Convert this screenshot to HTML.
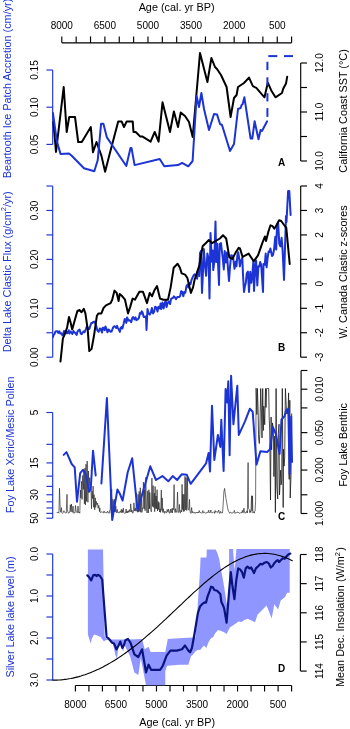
<!DOCTYPE html>
<html><head><meta charset="utf-8"><style>
html,body{margin:0;padding:0;background:#fff;}
svg{display:block;will-change:transform;filter:blur(0.35px);}
text{font-family:"Liberation Sans",sans-serif;}
</style></head><body>
<svg width="350" height="729" viewBox="0 0 350 729">
<rect width="350" height="729" fill="#fff"/>
<line x1="61.8" y1="42.8" x2="291.6" y2="42.8" stroke="#000" stroke-width="1.15"/>
<line x1="61.8" y1="42.8" x2="61.8" y2="36.4" stroke="#000" stroke-width="1.15"/>
<line x1="76.1625" y1="42.8" x2="76.1625" y2="36.4" stroke="#000" stroke-width="1.15"/>
<line x1="90.525" y1="42.8" x2="90.525" y2="36.4" stroke="#000" stroke-width="1.15"/>
<line x1="104.8875" y1="42.8" x2="104.8875" y2="36.4" stroke="#000" stroke-width="1.15"/>
<line x1="119.25" y1="42.8" x2="119.25" y2="36.4" stroke="#000" stroke-width="1.15"/>
<line x1="133.6125" y1="42.8" x2="133.6125" y2="36.4" stroke="#000" stroke-width="1.15"/>
<line x1="147.97500000000002" y1="42.8" x2="147.97500000000002" y2="36.4" stroke="#000" stroke-width="1.15"/>
<line x1="162.3375" y1="42.8" x2="162.3375" y2="36.4" stroke="#000" stroke-width="1.15"/>
<line x1="176.7" y1="42.8" x2="176.7" y2="36.4" stroke="#000" stroke-width="1.15"/>
<line x1="191.0625" y1="42.8" x2="191.0625" y2="36.4" stroke="#000" stroke-width="1.15"/>
<line x1="205.425" y1="42.8" x2="205.425" y2="36.4" stroke="#000" stroke-width="1.15"/>
<line x1="219.78750000000002" y1="42.8" x2="219.78750000000002" y2="36.4" stroke="#000" stroke-width="1.15"/>
<line x1="234.15000000000003" y1="42.8" x2="234.15000000000003" y2="36.4" stroke="#000" stroke-width="1.15"/>
<line x1="248.5125" y1="42.8" x2="248.5125" y2="36.4" stroke="#000" stroke-width="1.15"/>
<line x1="262.875" y1="42.8" x2="262.875" y2="36.4" stroke="#000" stroke-width="1.15"/>
<line x1="277.2375" y1="42.8" x2="277.2375" y2="36.4" stroke="#000" stroke-width="1.15"/>
<line x1="291.6" y1="42.8" x2="291.6" y2="36.4" stroke="#000" stroke-width="1.15"/>
<text x="61.8" y="29.1" text-anchor="middle" font-size="10" fill="#000" font-weight="normal">8000</text>
<text x="104.8875" y="29.1" text-anchor="middle" font-size="10" fill="#000" font-weight="normal">6500</text>
<text x="147.97500000000002" y="29.1" text-anchor="middle" font-size="10" fill="#000" font-weight="normal">5000</text>
<text x="191.0625" y="29.1" text-anchor="middle" font-size="10" fill="#000" font-weight="normal">3500</text>
<text x="234.15000000000003" y="29.1" text-anchor="middle" font-size="10" fill="#000" font-weight="normal">2000</text>
<text x="277.2375" y="29.1" text-anchor="middle" font-size="10" fill="#000" font-weight="normal">500</text>
<text x="176.6" y="10.6" text-anchor="middle" font-size="10.85" fill="#000" font-weight="normal">Age (cal. yr BP)</text>
<line x1="75.4" y1="685.5" x2="291.6" y2="685.5" stroke="#000" stroke-width="1.15"/>
<line x1="75.4" y1="685.5" x2="75.4" y2="691.5" stroke="#000" stroke-width="1.15"/>
<line x1="88.91250000000001" y1="685.5" x2="88.91250000000001" y2="691.5" stroke="#000" stroke-width="1.15"/>
<line x1="102.42500000000001" y1="685.5" x2="102.42500000000001" y2="691.5" stroke="#000" stroke-width="1.15"/>
<line x1="115.9375" y1="685.5" x2="115.9375" y2="691.5" stroke="#000" stroke-width="1.15"/>
<line x1="129.45000000000002" y1="685.5" x2="129.45000000000002" y2="691.5" stroke="#000" stroke-width="1.15"/>
<line x1="142.9625" y1="685.5" x2="142.9625" y2="691.5" stroke="#000" stroke-width="1.15"/>
<line x1="156.47500000000002" y1="685.5" x2="156.47500000000002" y2="691.5" stroke="#000" stroke-width="1.15"/>
<line x1="169.9875" y1="685.5" x2="169.9875" y2="691.5" stroke="#000" stroke-width="1.15"/>
<line x1="183.5" y1="685.5" x2="183.5" y2="691.5" stroke="#000" stroke-width="1.15"/>
<line x1="197.01250000000002" y1="685.5" x2="197.01250000000002" y2="691.5" stroke="#000" stroke-width="1.15"/>
<line x1="210.525" y1="685.5" x2="210.525" y2="691.5" stroke="#000" stroke-width="1.15"/>
<line x1="224.03750000000002" y1="685.5" x2="224.03750000000002" y2="691.5" stroke="#000" stroke-width="1.15"/>
<line x1="237.55" y1="685.5" x2="237.55" y2="691.5" stroke="#000" stroke-width="1.15"/>
<line x1="251.06250000000003" y1="685.5" x2="251.06250000000003" y2="691.5" stroke="#000" stroke-width="1.15"/>
<line x1="264.57500000000005" y1="685.5" x2="264.57500000000005" y2="691.5" stroke="#000" stroke-width="1.15"/>
<line x1="278.08750000000003" y1="685.5" x2="278.08750000000003" y2="691.5" stroke="#000" stroke-width="1.15"/>
<line x1="291.6" y1="685.5" x2="291.6" y2="691.5" stroke="#000" stroke-width="1.15"/>
<text x="75.4" y="708.2" text-anchor="middle" font-size="10" fill="#000" font-weight="normal">8000</text>
<text x="115.9375" y="708.2" text-anchor="middle" font-size="10" fill="#000" font-weight="normal">6500</text>
<text x="156.47500000000002" y="708.2" text-anchor="middle" font-size="10" fill="#000" font-weight="normal">5000</text>
<text x="197.01250000000002" y="708.2" text-anchor="middle" font-size="10" fill="#000" font-weight="normal">3500</text>
<text x="237.55" y="708.2" text-anchor="middle" font-size="10" fill="#000" font-weight="normal">2000</text>
<text x="278.08750000000003" y="708.2" text-anchor="middle" font-size="10" fill="#000" font-weight="normal">500</text>
<text x="177.2" y="726.2" text-anchor="middle" font-size="10.85" fill="#000" font-weight="normal">Age (cal. yr BP)</text>
<line x1="52.7" y1="70" x2="52.7" y2="144.4" stroke="#1c34d6" stroke-width="1.15"/>
<line x1="46.400000000000006" y1="70" x2="52.7" y2="70" stroke="#1c34d6" stroke-width="1.15"/>
<line x1="46.400000000000006" y1="107.2" x2="52.7" y2="107.2" stroke="#1c34d6" stroke-width="1.15"/>
<line x1="46.400000000000006" y1="144.4" x2="52.7" y2="144.4" stroke="#1c34d6" stroke-width="1.15"/>
<text transform="translate(38.2,70) rotate(-90)" text-anchor="middle" font-size="10" fill="#000" font-weight="normal">0.15</text>
<text transform="translate(38.2,107.2) rotate(-90)" text-anchor="middle" font-size="10" fill="#000" font-weight="normal">0.10</text>
<text transform="translate(38.2,144.4) rotate(-90)" text-anchor="middle" font-size="10" fill="#000" font-weight="normal">0.05</text>
<line x1="300.7" y1="63" x2="300.7" y2="161" stroke="#000" stroke-width="1.15"/>
<line x1="300.7" y1="63" x2="307.0" y2="63" stroke="#000" stroke-width="1.15"/>
<line x1="300.7" y1="87.5" x2="307.0" y2="87.5" stroke="#000" stroke-width="1.15"/>
<line x1="300.7" y1="112" x2="307.0" y2="112" stroke="#000" stroke-width="1.15"/>
<line x1="300.7" y1="136.5" x2="307.0" y2="136.5" stroke="#000" stroke-width="1.15"/>
<line x1="300.7" y1="161" x2="307.0" y2="161" stroke="#000" stroke-width="1.15"/>
<text transform="translate(322.9,63) rotate(-90)" text-anchor="middle" font-size="10" fill="#000" font-weight="normal">12.0</text>
<text transform="translate(322.9,112) rotate(-90)" text-anchor="middle" font-size="10" fill="#000" font-weight="normal">11.0</text>
<text transform="translate(322.9,161) rotate(-90)" text-anchor="middle" font-size="10" fill="#000" font-weight="normal">10.0</text>
<text transform="translate(10.9,178.3) rotate(-90)" text-anchor="start" font-size="10.85" fill="#1c34d6" font-weight="normal">Beartooth Ice Patch Accretion (cm/yr)</text>
<text transform="translate(346.7,172.7) rotate(-90)" text-anchor="start" font-size="10.85" fill="#000" font-weight="normal">California Coast SST (°C)</text>
<text x="281.5" y="166" text-anchor="middle" font-size="10" fill="#000" font-weight="bold">A</text>
<polyline points="53.4,122.0 56.0,152.0 63.7,87.0 66.7,132.0 69.2,117.0 75.0,117.0 78.2,142.0 81.8,142.0 90.8,127.0 93.0,152.3 96.5,142.0 101.4,155.6 105.1,171.7 109.2,155.7 118.2,121.4 121.6,121.4 124.0,127.0 126.7,121.4 132.7,121.4 133.5,132.0 135.7,132.0 140.3,136.6 142.6,136.6 150.6,141.6 154.7,132.0 158.6,141.6 162.5,102.3 170.0,132.0 173.9,111.4 178.0,127.0 180.7,112.6 185.0,116.0 189.0,122.0 192.7,137.0 200.0,53.0 207.4,82.0 211.4,58.0 215.0,67.0 217.0,69.0 221.0,75.0 226.6,87.0 230.6,117.0 234.0,98.0 236.6,95.0 238.0,87.0 244.0,83.0 249.0,77.6 252.9,86.2 256.3,87.9 264.5,97.3 267.8,82.7 271.7,91.3 275.5,97.3 282.0,93.0 283.2,88.7 286.0,83.6 287.2,76.7" fill="none" stroke="#000" stroke-width="2" stroke-linejoin="round" stroke-linecap="round" />
<polyline points="52.9,112.9 56.9,141.4 60.5,153.9 69.0,153.5 71.7,155.7 84.0,168.3 94.3,171.3 97.7,160.3 101.1,123.7 103.4,123.7 106.9,137.4 126.3,166.0 130.5,148.0 131.5,148.0 134.6,165.1 159.7,159.0 164.3,166.3 178.0,165.1 182.1,162.9 188.3,166.3 192.6,161.0 196.6,96.0 199.0,107.0 201.4,93.0 204.0,109.0 209.0,130.0 214.0,114.0 217.0,114.4 220.0,124.0 222.0,125.0 230.0,151.0 234.0,144.0 238.0,109.0 240.6,108.0 241.6,105.0 242.6,104.2 244.4,97.3 250.6,138.5 252.3,138.5 254.6,121.3 258.5,139.3 260.6,130.0 262.0,131.0 267.1,121.3" fill="none" stroke="#1c34d6" stroke-width="2" stroke-linejoin="round" stroke-linecap="round" />
<line x1="267.4" y1="61.8" x2="267.4" y2="70.1" stroke="#1c34d6" stroke-width="2"/>
<line x1="267.4" y1="77.3" x2="267.4" y2="85.5" stroke="#1c34d6" stroke-width="2"/>
<line x1="267.4" y1="93.2" x2="267.4" y2="101.4" stroke="#1c34d6" stroke-width="2"/>
<line x1="267.4" y1="108.1" x2="267.4" y2="116.9" stroke="#1c34d6" stroke-width="2"/>
<line x1="268.3" y1="56.1" x2="277.3" y2="56.1" stroke="#1c34d6" stroke-width="2"/>
<line x1="284.0" y1="56.1" x2="293.0" y2="56.1" stroke="#1c34d6" stroke-width="2"/>
<line x1="52.7" y1="186.0" x2="52.7" y2="357.2" stroke="#1c34d6" stroke-width="1.15"/>
<line x1="46.400000000000006" y1="186.0" x2="52.7" y2="186.0" stroke="#1c34d6" stroke-width="1.15"/>
<line x1="46.400000000000006" y1="210.45714285714286" x2="52.7" y2="210.45714285714286" stroke="#1c34d6" stroke-width="1.15"/>
<line x1="46.400000000000006" y1="234.9142857142857" x2="52.7" y2="234.9142857142857" stroke="#1c34d6" stroke-width="1.15"/>
<line x1="46.400000000000006" y1="259.37142857142857" x2="52.7" y2="259.37142857142857" stroke="#1c34d6" stroke-width="1.15"/>
<line x1="46.400000000000006" y1="283.8285714285714" x2="52.7" y2="283.8285714285714" stroke="#1c34d6" stroke-width="1.15"/>
<line x1="46.400000000000006" y1="308.2857142857143" x2="52.7" y2="308.2857142857143" stroke="#1c34d6" stroke-width="1.15"/>
<line x1="46.400000000000006" y1="332.74285714285713" x2="52.7" y2="332.74285714285713" stroke="#1c34d6" stroke-width="1.15"/>
<line x1="46.400000000000006" y1="357.2" x2="52.7" y2="357.2" stroke="#1c34d6" stroke-width="1.15"/>
<text transform="translate(38.2,357.2) rotate(-90)" text-anchor="middle" font-size="10" fill="#000" font-weight="normal">0.00</text>
<text transform="translate(38.2,308.2857142857143) rotate(-90)" text-anchor="middle" font-size="10" fill="#000" font-weight="normal">0.10</text>
<text transform="translate(38.2,259.37142857142857) rotate(-90)" text-anchor="middle" font-size="10" fill="#000" font-weight="normal">0.20</text>
<text transform="translate(38.2,210.45714285714286) rotate(-90)" text-anchor="middle" font-size="10" fill="#000" font-weight="normal">0.30</text>
<line x1="300.7" y1="186.0" x2="300.7" y2="357.2" stroke="#000" stroke-width="1.15"/>
<line x1="300.7" y1="186.0" x2="307.0" y2="186.0" stroke="#000" stroke-width="1.15"/>
<line x1="300.7" y1="210.45714285714286" x2="307.0" y2="210.45714285714286" stroke="#000" stroke-width="1.15"/>
<line x1="300.7" y1="234.9142857142857" x2="307.0" y2="234.9142857142857" stroke="#000" stroke-width="1.15"/>
<line x1="300.7" y1="259.37142857142857" x2="307.0" y2="259.37142857142857" stroke="#000" stroke-width="1.15"/>
<line x1="300.7" y1="283.8285714285714" x2="307.0" y2="283.8285714285714" stroke="#000" stroke-width="1.15"/>
<line x1="300.7" y1="308.2857142857143" x2="307.0" y2="308.2857142857143" stroke="#000" stroke-width="1.15"/>
<line x1="300.7" y1="332.74285714285713" x2="307.0" y2="332.74285714285713" stroke="#000" stroke-width="1.15"/>
<line x1="300.7" y1="357.2" x2="307.0" y2="357.2" stroke="#000" stroke-width="1.15"/>
<text transform="translate(322.9,186.0) rotate(-90)" text-anchor="middle" font-size="10" fill="#000" font-weight="normal">4</text>
<text transform="translate(322.9,210.45714285714286) rotate(-90)" text-anchor="middle" font-size="10" fill="#000" font-weight="normal">3</text>
<text transform="translate(322.9,234.9142857142857) rotate(-90)" text-anchor="middle" font-size="10" fill="#000" font-weight="normal">2</text>
<text transform="translate(322.9,259.37142857142857) rotate(-90)" text-anchor="middle" font-size="10" fill="#000" font-weight="normal">1</text>
<text transform="translate(322.9,283.8285714285714) rotate(-90)" text-anchor="middle" font-size="10" fill="#000" font-weight="normal">0</text>
<text transform="translate(322.9,308.2857142857143) rotate(-90)" text-anchor="middle" font-size="10" fill="#000" font-weight="normal">-1</text>
<text transform="translate(322.9,332.74285714285713) rotate(-90)" text-anchor="middle" font-size="10" fill="#000" font-weight="normal">-2</text>
<text transform="translate(322.9,357.2) rotate(-90)" text-anchor="middle" font-size="10" fill="#000" font-weight="normal">-3</text>
<text transform="translate(10.9,352.3) rotate(-90)" text-anchor="start" font-size="10.85" fill="#1c34d6" font-weight="normal">Delta Lake Clastic Flux (g/cm<tspan dy="-4.7" font-size="7.6">2</tspan><tspan dy="4.7">/yr)</tspan></text>
<text transform="translate(346.7,338.6) rotate(-90)" text-anchor="start" font-size="10.85" fill="#000" font-weight="normal">W. Canada Clastic z-scores</text>
<text x="281.5" y="351" text-anchor="middle" font-size="10" fill="#000" font-weight="bold">B</text>
<polyline points="53.0,337.0 53.8,334.6 54.5,334.0 55.5,331.4 56.5,331.2 57.4,331.2 58.2,332.9 59.4,331.2 60.2,333.6 61.5,333.3 62.4,335.4 63.1,334.7 64.0,330.9 64.8,331.8 66.0,331.0 67.0,333.4 67.9,332.9 68.7,330.2 69.5,333.5 70.5,331.5 71.5,332.2 72.4,334.0 73.5,331.0 74.6,332.5 75.8,333.6 76.7,334.9 77.4,331.8 78.6,330.2 79.6,329.5 80.7,333.6 81.7,334.1 82.6,332.7 83.7,331.3 84.6,332.2 85.9,329.2 87.0,326.1 88.1,328.8 89.4,328.9 90.3,325.8 91.4,322.9 92.4,323.1 93.1,322.0 94.3,321.6 95.1,322.6 96.4,326.6 97.3,330.3 98.6,331.8 99.8,328.5 100.7,328.9 102.0,332.5 102.8,327.7 103.6,328.0 104.6,330.2 105.4,326.5 106.4,328.7 107.4,332.3 108.6,329.5 109.6,330.5 110.4,331.8 111.5,331.6 112.7,328.5 113.6,326.6 114.7,326.3 115.5,327.2 116.3,328.0 117.0,325.8 117.8,328.0 118.7,329.3 119.9,331.9 120.7,327.9 121.6,326.9 122.4,328.5 123.7,323.4 124.7,318.9 125.4,319.9 126.3,322.9 127.1,317.4 128.4,320.5 129.2,320.5 129.9,320.2 131.2,322.2 132.3,317.9 133.2,317.1 134.4,319.4 135.5,317.4 136.4,320.1 137.7,319.3 138.8,318.2 140.0,313.1 141.0,313.7 141.7,311.2 142.6,312.5 143.7,317.1 144.7,316.7 146.0,316.5 146.5,330.0 147.5,309.0 148.5,313.3 149.8,314.6 150.8,312.7 151.9,307.9 153.0,313.4 154.2,311.6 155.2,306.8 156.4,307.3 157.5,311.5 158.5,306.7 159.8,308.5 160.6,303.5 161.3,309.0 162.5,302.6 163.7,308.4 164.8,303.0 165.8,300.7 166.6,307.0 167.6,302.9 168.9,301.5 170.1,304.0 171.0,299.0 171.8,298.4 172.9,298.0 173.8,296.4 175.1,297.6 176.1,299.1 177.3,297.0 178.5,297.1 179.6,296.7 180.3,295.6 181.1,291.2 182.3,291.9 183.3,296.2 184.3,291.9 185.3,292.8 186.5,285.8 187.5,284.6 188.4,287.5 189.4,283.1 190.5,284.2 191.5,280.0 192.5,277.6 193.6,275.5 194.6,274.3 195.9,275.2 197.1,278.7 198.0,270.0 199.2,276.1 200.0,252.9 201.0,250.9 202.0,293.0 202.9,273.4 203.8,249.0 205.3,268.7 206.1,275.8 207.4,253.4 208.6,259.0 209.5,298.6 210.5,233.0 211.8,261.8 212.7,250.5 213.2,270.0 214.3,262.1 215.5,221.4 216.3,262.0 217.2,243.8 219.0,285.0 219.7,244.0 221.0,243.0 221.8,250.6 222.6,256.6 223.8,269.4 224.7,251.0 225.9,262.5 227.0,252.4 227.8,266.1 229.0,281.0 230.0,266.7 231.2,255.2 232.4,255.8 233.0,256.0 234.5,268.8 235.8,261.4 236.5,266.2 237.4,255.0 238.2,252.3 239.0,257.1 239.9,266.4 240.7,261.8 241.6,259.4 242.3,257.9 243.0,274.6 244.0,292.0 245.0,285.9 245.8,283.0 246.7,273.6 247.9,271.5 249.0,292.0 250.2,271.8 251.4,282.8 252.5,272.5 253.4,260.7 254.0,291.0 255.3,266.1 256.1,260.5 257.3,285.4 258.4,266.3 259.3,266.5 260.2,262.0 261.2,265.1 263.0,292.0 263.5,263.9 264.8,264.7 265.7,253.5 266.6,267.3 267.6,258.2 268.6,251.5 269.5,252.0 270.4,248.5 271.2,252.1 272.0,256.0 273.0,255.1 274.1,249.3 275.3,236.7 276.2,249.4 277.0,226.0 278.1,222.3 279.3,243.9 280.4,246.4 281.6,237.8 282.6,250.1 284.0,280.0 286.0,216.0 286.5,222.0 288.1,191.0 289.3,191.0 290.6,215.0" fill="none" stroke="#1c34d6" stroke-width="2" stroke-linejoin="round" stroke-linecap="round" />
<polyline points="60.5,361.4 62.9,338.4 64.1,335.9 67.1,327.7 68.6,319.0 69.0,316.9 70.6,322.6 72.2,329.4 75.1,319.0 77.4,311.0 79.7,310.0 81.5,312.3 83.8,308.9 85.4,313.4 87.7,329.4 89.3,351.1 91.6,348.9 93.9,336.3 96.9,315.7 98.5,313.4 101.4,313.4 103.7,307.7 106.0,305.4 110.6,303.1 112.2,299.7 114.5,290.6 116.7,292.9 118.6,301.0 119.7,294.0 122.3,296.3 125.0,299.7 128.0,313.4 130.3,306.6 132.6,298.6 134.9,299.7 139.4,291.7 142.9,291.7 147.0,303.1 149.7,292.9 152.0,296.3 154.3,290.6 157.0,286.0 160.0,298.6 163.4,299.7 168.0,299.7 170.7,287.1 173.7,267.7 177.6,263.8 179.9,267.7 181.7,273.4 185.1,274.6 187.4,278.0 190.9,292.9 193.1,287.1 194.7,279.3 199.4,265.2 202.6,246.3 205.7,243.2 208.9,240.0 212.0,243.2 219.9,238.5 223.0,235.3 226.2,238.5 229.3,257.3 232.4,258.9 235.6,252.6 238.7,247.9 240.0,248.5 242.6,257.0 248.6,253.6 253.7,261.3 258.0,255.3 262.3,243.2 264.9,236.5 266.0,241.0 268.5,231.3 270.5,225.3 272.6,226.2 274.3,228.7 276.9,224.5 279.1,220.2 281.2,221.0 283.7,224.5 286.3,227.9 289.7,263.9" fill="none" stroke="#000" stroke-width="2" stroke-linejoin="round" stroke-linecap="round" />
<line x1="52.7" y1="412.5" x2="52.7" y2="518.2" stroke="#1c34d6" stroke-width="1.15"/>
<line x1="46.400000000000006" y1="412.5" x2="52.7" y2="412.5" stroke="#1c34d6" stroke-width="1.15"/>
<line x1="46.400000000000006" y1="444.3188705416828" x2="52.7" y2="444.3188705416828" stroke="#1c34d6" stroke-width="1.15"/>
<line x1="46.400000000000006" y1="462.93171662386834" x2="52.7" y2="462.93171662386834" stroke="#1c34d6" stroke-width="1.15"/>
<line x1="46.400000000000006" y1="476.13774108336565" x2="52.7" y2="476.13774108336565" stroke="#1c34d6" stroke-width="1.15"/>
<line x1="46.400000000000006" y1="486.3811294583172" x2="52.7" y2="486.3811294583172" stroke="#1c34d6" stroke-width="1.15"/>
<line x1="46.400000000000006" y1="494.7505871655511" x2="52.7" y2="494.7505871655511" stroke="#1c34d6" stroke-width="1.15"/>
<line x1="46.400000000000006" y1="501.8268628295069" x2="52.7" y2="501.8268628295069" stroke="#1c34d6" stroke-width="1.15"/>
<line x1="46.400000000000006" y1="507.9566116250485" x2="52.7" y2="507.9566116250485" stroke="#1c34d6" stroke-width="1.15"/>
<line x1="46.400000000000006" y1="513.3634332477367" x2="52.7" y2="513.3634332477367" stroke="#1c34d6" stroke-width="1.15"/>
<line x1="46.400000000000006" y1="518.2" x2="52.7" y2="518.2" stroke="#1c34d6" stroke-width="1.15"/>
<text transform="translate(38.2,412.5) rotate(-90)" text-anchor="middle" font-size="10" fill="#000" font-weight="normal">5</text>
<text transform="translate(38.2,462.93171662386834) rotate(-90)" text-anchor="middle" font-size="10" fill="#000" font-weight="normal">15</text>
<text transform="translate(38.2,494.7505871655511) rotate(-90)" text-anchor="middle" font-size="10" fill="#000" font-weight="normal">30</text>
<text transform="translate(38.2,518.2) rotate(-90)" text-anchor="middle" font-size="10" fill="#000" font-weight="normal">50</text>
<line x1="301.09999999999997" y1="370.49098576948353" x2="301.09999999999997" y2="513.5" stroke="#000" stroke-width="1.15"/>
<line x1="301.09999999999997" y1="370.49098576948353" x2="307.4" y2="370.49098576948353" stroke="#000" stroke-width="1.15"/>
<line x1="301.09999999999997" y1="389.2" x2="307.4" y2="389.2" stroke="#000" stroke-width="1.15"/>
<line x1="301.09999999999997" y1="407.90901423051645" x2="307.4" y2="407.90901423051645" stroke="#000" stroke-width="1.15"/>
<line x1="301.09999999999997" y1="432.64098576948356" x2="307.4" y2="432.64098576948356" stroke="#000" stroke-width="1.15"/>
<line x1="301.09999999999997" y1="451.34999999999997" x2="307.4" y2="451.34999999999997" stroke="#000" stroke-width="1.15"/>
<line x1="301.09999999999997" y1="470.0590142305164" x2="307.4" y2="470.0590142305164" stroke="#000" stroke-width="1.15"/>
<line x1="301.09999999999997" y1="494.79098576948354" x2="307.4" y2="494.79098576948354" stroke="#000" stroke-width="1.15"/>
<line x1="301.09999999999997" y1="513.5" x2="307.4" y2="513.5" stroke="#000" stroke-width="1.15"/>
<text transform="translate(322.9,389.2) rotate(-90)" text-anchor="middle" font-size="10" fill="#000" font-weight="normal">0.010</text>
<text transform="translate(322.9,432.64098576948356) rotate(-90)" text-anchor="middle" font-size="10" fill="#000" font-weight="normal">0.050</text>
<text transform="translate(322.9,470.0590142305164) rotate(-90)" text-anchor="middle" font-size="10" fill="#000" font-weight="normal">0.200</text>
<text transform="translate(322.9,513.5) rotate(-90)" text-anchor="middle" font-size="10" fill="#000" font-weight="normal">1.000</text>
<text transform="translate(13.5,513.2) rotate(-90)" text-anchor="start" font-size="10.85" fill="#1c34d6" font-weight="normal">Foy Lake Xeric/Mesic Pollen</text>
<text transform="translate(346.7,486.8) rotate(-90)" text-anchor="start" font-size="10.85" fill="#000" font-weight="normal">Foy Lake Benthic</text>
<text x="281.5" y="520" text-anchor="middle" font-size="10" fill="#000" font-weight="bold">C</text>
<polyline points="57.0,512.4 57.5,512.9 57.9,512.1 58.3,512.4 58.9,513.2 59.5,488.3 60.2,509.4 60.8,512.2 61.4,507.6 61.9,512.7 62.5,513.3 63.2,512.7 63.9,510.7 64.7,512.4 65.1,512.8 65.6,512.9 66.3,513.0 67.0,494.3 67.4,509.8 68.1,512.8 68.6,513.2 69.0,512.2 69.8,512.2 70.3,504.8 71.0,511.8 71.4,504.0 72.1,512.1 72.6,512.2 73.0,506.1 73.4,511.6 73.8,513.3 74.3,512.7 74.9,512.9 75.5,505.5 76.2,512.1 76.9,512.4 77.4,512.8 78.0,506.1 78.6,512.7 79.2,512.0 79.8,513.2 80.4,490.2 80.9,498.0 81.4,481.3 82.1,499.4 82.7,475.5 83.4,489.4 83.9,470.2 84.4,503.8 84.9,468.2 85.4,504.9 86.0,464.2 86.5,501.4 87.2,461.0 87.9,502.3 88.4,471.0 89.0,492.7 89.6,477.7 90.3,488.2 91.0,490.2 91.5,508.7 92.0,491.0 92.6,498.6 93.1,486.1 93.7,507.3 94.0,494.6 94.7,509.8 95.3,497.8 95.7,507.3 96.3,501.3 96.9,504.8 97.6,503.0 98.1,508.2 98.8,505.3 99.5,511.5 99.8,507.8 100.2,512.4 100.8,512.6 101.4,511.7 101.8,512.0 102.5,512.2 103.0,512.5 103.6,512.9 104.0,510.9 104.7,512.6 105.1,512.6 105.7,512.6 106.3,512.7 106.9,513.0 107.5,511.1 108.1,512.1 108.7,513.2 109.2,513.3 109.6,510.4 110.2,509.9 110.9,490.7 111.2,512.8 111.7,489.1 112.0,511.3 112.5,512.1 112.9,499.2 113.6,512.0 114.0,500.8 114.3,512.0 114.7,499.2 115.2,512.1 115.8,505.9 116.3,512.1 116.7,512.8 117.2,509.3 117.8,512.8 118.4,512.9 118.8,512.2 119.5,512.8 120.1,511.1 120.7,512.4 121.3,509.3 121.9,513.0 122.3,509.9 122.8,512.2 123.3,508.0 123.8,512.7 124.5,513.2 125.1,513.0 125.6,513.1 126.1,509.0 126.7,513.0 127.2,511.2 127.8,512.9 128.3,510.6 128.9,512.2 129.6,509.6 130.2,511.8 130.7,503.8 131.5,512.1 131.9,510.1 132.6,513.2 133.3,512.6 133.9,502.9 134.6,511.0 135.4,508.1 135.9,511.2 136.5,493.2 137.1,510.6 137.7,512.3 138.1,494.3 138.7,512.0 139.2,491.4 139.8,511.4 140.3,487.8 140.7,512.3 141.4,499.2 141.9,512.4 142.6,507.9 143.0,508.1 143.4,482.1 144.1,509.0 144.5,489.5 145.1,510.7 145.8,477.4 146.5,508.9 147.1,512.9 147.7,490.9 148.3,513.0 148.9,489.7 149.5,508.8 149.8,492.5 150.4,507.2 150.8,509.5 151.3,511.9 151.9,478.1 152.5,506.5 153.1,485.6 153.6,507.4 154.3,493.2 154.7,511.7 155.1,486.5 155.7,508.7 156.1,496.0 156.6,508.8 157.1,489.7 157.5,510.9 158.2,501.4 158.6,509.5 159.0,502.5 159.6,512.0 160.1,508.9 160.6,512.4 161.3,490.1 161.8,510.4 162.2,497.9 162.8,512.4 163.3,508.7 163.9,512.5 164.5,513.4 164.9,511.1 165.2,512.0 165.9,512.4 166.5,513.1 167.2,509.4 167.9,512.1 168.6,509.2 169.3,513.2 169.9,513.1 170.5,509.2 170.9,512.8 171.4,512.3 172.0,508.5 172.4,512.9 172.9,508.3 173.4,509.7 174.1,484.6 174.7,510.6 175.1,512.6 175.5,508.7 176.1,512.2 176.5,512.1 176.9,512.1 177.5,492.2 178.2,512.6 178.6,512.2 179.0,512.1 179.4,504.4 179.9,512.5 180.5,513.1 181.0,510.1 181.6,512.0 182.1,484.3 182.4,509.5 182.8,494.3 183.4,511.5 183.9,494.3 184.3,511.3 185.0,476.4 185.6,509.8 186.1,477.5 186.7,510.5 187.4,478.0 187.9,507.6 188.3,509.9 189.0,509.7 189.5,499.4 189.9,509.9 190.2,512.3 190.9,513.4 191.6,507.6 192.1,512.7 192.6,511.5 193.3,513.1 193.7,512.5 194.3,512.8 194.7,512.4 195.2,513.4 196.0,512.1 196.5,512.5 197.1,512.2 197.5,513.1 198.0,512.2 198.6,513.0 199.2,510.5 199.9,512.6 200.5,512.4 201.1,513.1 201.6,513.0 202.3,512.9 202.8,510.6 203.6,512.7 204.1,512.7 204.6,512.0 205.2,512.5 205.9,513.3 206.2,512.8 206.8,512.5 207.5,512.2 208.0,512.8 208.7,510.2 209.1,512.4 209.6,512.5 210.3,512.5 210.8,510.0 211.2,512.4 211.6,512.8 212.2,512.9 212.6,512.5 213.0,512.4 213.4,511.9 214.2,512.1 214.6,513.4 215.2,510.5 215.6,512.2 216.3,512.2 216.9,511.4 217.6,512.4 218.0,512.3 218.7,510.1 219.5,513.3 220.0,513.3 220.6,511.4 221.3,513.0 221.8,512.8 222.4,513.0 222.8,509.9 223.5,498.4 223.9,491.7 224.6,488.4 225.1,492.8 225.6,495.1 225.9,498.4 226.7,502.4 227.3,506.1 227.9,509.1 228.3,511.1 228.8,511.4 229.6,513.3 230.2,512.5 230.7,512.3 231.3,512.5 231.8,513.4 232.3,512.8 233.1,512.8 233.7,512.2 234.4,510.4 234.9,513.3 235.3,512.8 235.8,513.2 236.3,512.5 236.8,512.6 237.5,512.0 238.0,512.9 238.4,512.4 239.0,513.2 239.6,513.2 240.3,512.7 240.7,513.2 241.3,512.4 242.0,512.9 242.3,510.3 242.8,512.4 243.3,512.7 243.9,508.1 244.5,512.1 245.2,513.3 245.7,512.4 246.4,512.5 247.0,510.8 247.4,512.9 248.1,462.6 248.5,508.3 249.2,509.1 249.8,512.7 250.3,510.7 250.9,512.4 251.6,495.7 252.0,510.9 252.5,495.9 252.9,512.8 253.3,511.8 253.8,512.0 254.3,513.2 254.6,511.5 255.1,511.1 255.6,501.2 256.1,388.5" fill="none" stroke="#222" stroke-width="0.65" stroke-linejoin="round" stroke-linecap="round" />
<polyline points="256.1,388.5 256.9,414.5 257.4,388.5 258.1,409.9 258.6,438.2 259.3,443.5 259.8,434.3 260.7,388.5 261.5,413.8 262.0,437.9 262.7,388.5 263.3,430.5 263.8,406.2 264.7,424.7 265.5,388.5 266.0,407.5 266.6,388.5 267.4,388.5 267.9,388.5 268.7,388.5 269.2,418.2 269.7,430.2 270.5,500.0 271.1,417.0 271.6,449.7 272.5,422.9 273.4,430.3 273.9,476.6 274.7,436.1 275.4,512.5 276.1,388.5 276.8,485.6 277.7,498.9 278.3,433.6 279.0,424.2 279.5,495.0 280.7,470.1 281.1,484.9 281.7,480.0 282.3,388.5 283.2,507.5 283.5,449.3 284.0,466.2 284.7,457.6 285.4,388.5 286.2,405.5 286.8,414.1 287.4,410.0 288.0,414.0 288.6,392.9 289.2,479.3 289.8,400.2 290.2,498.0 291.0,475.6 291.7,413.8" fill="none" stroke="#1a1a1a" stroke-width="0.8" stroke-linejoin="round" stroke-linecap="round" />
<polyline points="63.7,454.9 66.5,452.1 71.7,464.0 74.7,467.4 77.0,501.7 80.2,473.1 83.1,469.7 86.1,475.4 88.9,491.4 90.7,490.0 93.0,450.7 95.7,475.4" fill="none" stroke="#1c34d6" stroke-width="2" stroke-linejoin="round" stroke-linecap="round" />
<polyline points="101.4,483.4 106.9,398.0 112.2,520.0 117.4,489.6 120.0,494.1 122.6,500.5 127.7,472.3 132.2,458.3 137.5,510.3 150.3,466.3 156.0,480.0 162.4,476.1 168.3,481.3 172.7,476.1 177.1,480.0 181.7,474.3 186.8,474.8 190.7,483.8 206.1,463.3 208.6,452.9 210.0,471.4 212.0,405.7 214.3,460.0 217.9,434.9 220.3,446.9 221.3,419.8 223.6,471.0 225.6,388.9 227.1,402.4 228.3,381.3 229.6,455.2 231.1,375.7 233.4,424.3 237.3,385.8 238.8,434.9 245.0,421.3 249.8,408.8 252.7,411.7 256.5,464.6 260.4,451.2 267.1,452.1 270.0,449.2 272.9,427.1 275.8,433.8 279.6,454.0 281.5,419.4 284.4,416.5 286.3,409.8 288.3,408.8 289.6,474.2 291.2,416.5 292.0,462.0" fill="none" stroke="#1c34d6" stroke-width="2" stroke-linejoin="round" stroke-linecap="round" />
<line x1="52.7" y1="554.0" x2="52.7" y2="680.0" stroke="#1c34d6" stroke-width="1.15"/>
<line x1="46.400000000000006" y1="554.0" x2="52.7" y2="554.0" stroke="#1c34d6" stroke-width="1.15"/>
<line x1="46.400000000000006" y1="575.0" x2="52.7" y2="575.0" stroke="#1c34d6" stroke-width="1.15"/>
<line x1="46.400000000000006" y1="596.0" x2="52.7" y2="596.0" stroke="#1c34d6" stroke-width="1.15"/>
<line x1="46.400000000000006" y1="617.0" x2="52.7" y2="617.0" stroke="#1c34d6" stroke-width="1.15"/>
<line x1="46.400000000000006" y1="638.0" x2="52.7" y2="638.0" stroke="#1c34d6" stroke-width="1.15"/>
<line x1="46.400000000000006" y1="659.0" x2="52.7" y2="659.0" stroke="#1c34d6" stroke-width="1.15"/>
<line x1="46.400000000000006" y1="680.0" x2="52.7" y2="680.0" stroke="#1c34d6" stroke-width="1.15"/>
<text transform="translate(38.2,554.0) rotate(-90)" text-anchor="middle" font-size="10" fill="#000" font-weight="normal">0.0</text>
<text transform="translate(38.2,596.0) rotate(-90)" text-anchor="middle" font-size="10" fill="#000" font-weight="normal">1.0</text>
<text transform="translate(38.2,638.0) rotate(-90)" text-anchor="middle" font-size="10" fill="#000" font-weight="normal">2.0</text>
<text transform="translate(38.2,680.0) rotate(-90)" text-anchor="middle" font-size="10" fill="#000" font-weight="normal">3.0</text>
<line x1="300.4" y1="554.5" x2="300.4" y2="671.1" stroke="#000" stroke-width="1.15"/>
<line x1="300.4" y1="554.5" x2="306.7" y2="554.5" stroke="#000" stroke-width="1.15"/>
<line x1="300.4" y1="583.65" x2="306.7" y2="583.65" stroke="#000" stroke-width="1.15"/>
<line x1="300.4" y1="612.8" x2="306.7" y2="612.8" stroke="#000" stroke-width="1.15"/>
<line x1="300.4" y1="641.95" x2="306.7" y2="641.95" stroke="#000" stroke-width="1.15"/>
<line x1="300.4" y1="671.1" x2="306.7" y2="671.1" stroke="#000" stroke-width="1.15"/>
<text transform="translate(322.9,554.5) rotate(-90)" text-anchor="middle" font-size="10" fill="#000" font-weight="normal">118</text>
<text transform="translate(322.9,583.65) rotate(-90)" text-anchor="middle" font-size="10" fill="#000" font-weight="normal">117</text>
<text transform="translate(322.9,612.8) rotate(-90)" text-anchor="middle" font-size="10" fill="#000" font-weight="normal">116</text>
<text transform="translate(322.9,641.95) rotate(-90)" text-anchor="middle" font-size="10" fill="#000" font-weight="normal">115</text>
<text transform="translate(322.9,671.1) rotate(-90)" text-anchor="middle" font-size="10" fill="#000" font-weight="normal">114</text>
<text transform="translate(13.5,677.6) rotate(-90)" text-anchor="start" font-size="10.85" fill="#1c34d6" font-weight="normal">Silver Lake lake level (m)</text>
<text transform="translate(344.2,687.0) rotate(-90)" text-anchor="start" font-size="10.85" fill="#000" font-weight="normal">Mean Dec. Insolation (W/m<tspan dy="-4.7" font-size="7.6">2</tspan><tspan dy="4.7" dx="1.2">)</tspan></text>
<text x="281.5" y="672.1" text-anchor="middle" font-size="10" fill="#000" font-weight="bold">D</text>
<polygon points="87.9,549.4 103.0,549.4 103.6,580.0 104.7,637.0 106.3,638.7 111.0,639.5 129.3,639.5 142.1,639.0 144.7,649.3 148.6,646.7 150.6,651.9 165.3,651.9 167.8,639.0 187.1,637.7 195.4,637.6 196.1,629.7 197.4,610.2 198.7,590.6 200.0,571.0 200.6,557.4 206.5,557.4 206.8,549.4 215.7,549.4 217.4,552.9 219.2,558.9 220.9,569.2 222.6,577.7 224.3,588.0 227.3,607.0 229.1,590.0 229.1,549.1 233.0,549.1 234.6,570.7 236.4,549.1 289.7,549.1 289.7,592.7 287.1,592.7 285.0,597.0 280.7,600.4 278.1,609.4 274.3,604.3 271.7,618.4 266.6,605.6 257.6,614.6 255.0,622.3 247.7,618.7 244.3,619.9 241.4,622.1 238.6,621.6 232.9,625.6 230.0,627.3 226.6,634.1 223.7,631.9 220.3,630.7 218.0,630.1 215.0,633.4 213.3,636.9 210.7,638.6 208.1,642.9 206.4,648.0 203.9,645.5 200.4,649.7 197.5,650.0 195.3,651.5 192.7,654.9 191.0,656.0 188.4,664.7 179.4,664.7 167.1,665.7 165.3,671.1 165.3,685.3 146.0,685.3 140.8,658.3 138.3,675.0 134.4,672.4 130.0,656.0 124.5,645.0 123.1,651.8 121.0,645.0 118.5,645.0 117.0,658.4 115.4,655.1 112.9,643.6 108.8,640.0 106.3,640.0 103.8,641.2 100.6,637.0 97.3,635.4 94.0,634.6 91.8,638.7 90.7,643.6 87.9,634.6" fill="#8f96ff" stroke="none"/>
<polyline points="87.4,575.4 89.0,577.0 91.2,580.3 93.2,575.4 95.1,574.9 96.5,576.0 98.1,574.9 100.0,576.0 102.2,579.5 106.6,637.0 108.8,638.7 112.1,642.8 114.0,643.5 116.5,649.4 118.7,645.3 120.3,641.6 122.3,648.0 124.0,645.0 125.4,640.3 128.0,639.0 130.6,642.9 134.4,654.4 138.3,657.0 142.1,649.3 146.0,672.4 148.6,664.7 151.1,669.8 160.1,669.8 162.7,666.0 166.6,655.7 170.4,650.6 176.8,650.6 182.0,649.3 185.0,645.5 188.4,650.6 190.1,652.3 191.9,648.0 194.4,634.3 196.1,624.0 197.9,612.9 200.2,606.2 202.6,603.7 204.6,602.4 206.0,602.6 207.8,595.8 209.8,590.6 211.1,586.7 213.0,587.4 214.3,590.0 217.1,590.7 220.3,594.1 221.4,602.1 223.1,605.6 224.1,608.1 226.6,622.7 229.2,590.0 230.8,572.2 232.3,585.0 234.4,599.1 236.3,580.0 238.2,568.4 240.1,569.4 242.0,572.0 243.8,577.7 245.7,568.4 247.5,566.6 249.4,568.4 251.2,567.5 254.0,573.1 255.9,568.4 258.7,565.7 260.5,563.8 262.3,564.5 264.2,562.9 267.0,562.0 268.8,563.5 270.8,567.5 272.6,566.0 274.5,562.9 276.3,561.0 277.7,560.2 279.1,562.0 281.0,560.0 282.8,558.2 284.6,558.8 286.5,556.4 288.4,554.5 290.3,553.6" fill="none" stroke="#0a1480" stroke-width="2.2" stroke-linejoin="round" stroke-linecap="round" />
<polyline points="52.7,680.1 54.7,680.1 56.7,680.1 58.7,680.0 60.8,679.9 62.8,679.7 64.8,679.4 66.8,679.2 68.8,678.8 70.8,678.5 72.8,678.1 74.8,677.6 76.9,677.1 78.9,676.6 80.9,676.0 82.9,675.3 84.9,674.7 86.9,674.0 88.9,673.2 91.0,672.4 93.0,671.6 95.0,670.7 97.0,669.8 99.0,668.9 101.0,667.9 103.0,666.9 105.0,665.8 107.1,664.7 109.1,663.6 111.1,662.4 113.1,661.2 115.1,660.0 117.1,658.7 119.1,657.4 121.2,656.0 123.2,654.6 125.2,653.2 127.2,651.8 129.2,650.3 131.2,648.8 133.2,647.3 135.3,645.7 137.3,644.1 139.3,642.5 141.3,640.8 143.3,639.1 145.3,637.4 147.3,635.7 149.3,634.0 151.4,632.2 153.4,630.4 155.4,628.6 157.4,626.8 159.4,624.9 161.4,623.1 163.4,621.2 165.5,619.3 167.5,617.4 169.5,615.5 171.5,613.6 173.5,611.7 175.5,609.8 177.5,607.9 179.5,606.0 181.6,604.1 183.6,602.1 185.6,600.2 187.6,598.4 189.6,596.5 191.6,594.6 193.6,592.7 195.7,590.9 197.7,589.1 199.7,587.3 201.7,585.5 203.7,583.7 205.7,582.0 207.7,580.3 209.7,578.7 211.8,577.0 213.8,575.4 215.8,573.9 217.8,572.4 219.8,570.9 221.8,569.5 223.8,568.1 225.9,566.8 227.9,565.5 229.9,564.3 231.9,563.1 233.9,562.0 235.9,560.9 237.9,559.9 240.0,559.0 242.0,558.2 244.0,557.4 246.0,556.6 248.0,556.0 250.0,555.4 252.0,554.9 254.0,554.5 256.1,554.1 258.1,553.8 260.1,553.6 262.1,553.5 264.1,553.4 266.1,553.4 268.1,553.5 270.2,553.7 272.2,554.0 274.2,554.3 276.2,554.7 278.2,555.2 280.2,555.8 282.2,556.4 284.2,557.1 286.3,557.9 288.3,558.8 290.3,559.7 292.3,560.7" fill="none" stroke="#000" stroke-width="1.1" stroke-linejoin="round" stroke-linecap="round" />
</svg>
</body></html>
